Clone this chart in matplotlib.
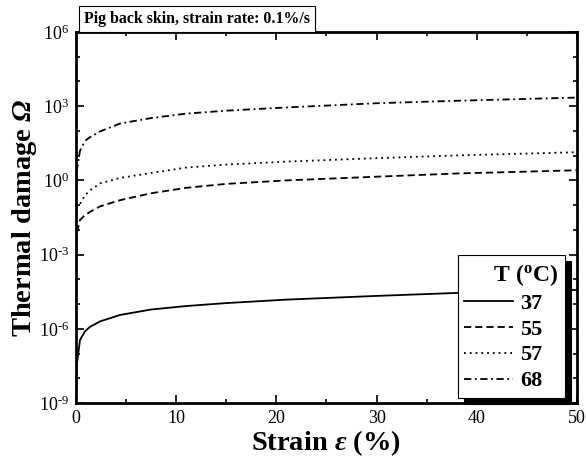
import numpy as np
import matplotlib
matplotlib.use('Agg')
import matplotlib.pyplot as plt
from matplotlib.ticker import MultipleLocator, LogLocator, NullFormatter, FuncFormatter

plt.rcParams['font.family'] = ['Liberation Serif', 'DejaVu Serif']
plt.rcParams['mathtext.fontset'] = 'custom'
plt.rcParams['mathtext.rm'] = 'Liberation Serif'
plt.rcParams['mathtext.it'] = 'Liberation Serif:italic'
plt.rcParams['mathtext.bf'] = 'Liberation Serif:bold'
plt.rcParams['mathtext.bfit'] = 'Liberation Serif:bold:italic'
plt.rcParams['axes.unicode_minus'] = False

# strain (%) and log10 of thermal damage
strain = [0.02, 0.1, 0.4, 0.9, 1.4, 2.4, 4.4, 7.5, 11, 15, 21, 30, 38, 50]
log_37 = [-8.3, -7.4, -6.45, -6.1, -5.92, -5.7, -5.44, -5.22, -5.08, -4.96, -4.82, -4.67, -4.55, -4.43]
log_55 = [-3.0, -2.1, -1.6, -1.4, -1.27, -1.05, -0.8, -0.52, -0.3, -0.14, 0.0, 0.15, 0.28, 0.41]
log_57 = [-1.6, -1.1, -0.95, -0.6, -0.4, -0.12, 0.1, 0.3, 0.52, 0.64, 0.76, 0.9, 1.01, 1.14]
log_68 = [-0.3, 0.45, 1.2, 1.6, 1.75, 1.98, 2.3, 2.52, 2.7, 2.82, 2.95, 3.12, 3.22, 3.35]

temps = ['37', '55', '57', '68']
styles = ['-', (0, (4, 2.2)), (0, (1, 2.2)), (0, (4, 2, 1, 2))]


def pow10(v, pos):
    e = int(round(np.log10(v)))
    s = str(e).replace('-', '\u2010')
    return '$10^{' + s + '}$'


fig = plt.figure(figsize=(5.86, 4.66), dpi=100)
ax = fig.add_axes([0.1297, 0.1352, 0.8549, 0.7961])

for t, ls, yl in zip(temps, styles, [log_37, log_55, log_57, log_68]):
    ax.plot(strain, 10 ** np.array(yl), color='black', ls=ls, lw=1.3, label=t)

ax.set_yscale('log')
ax.set_xlim(0, 50)
ax.set_ylim(1e-9, 1e6)
ax.xaxis.set_major_locator(MultipleLocator(10))
ax.xaxis.set_minor_locator(MultipleLocator(5))
ax.yaxis.set_major_locator(LogLocator(base=1000, numticks=10))
ax.yaxis.set_minor_locator(LogLocator(base=10, subs=[1.0], numticks=20))
ax.yaxis.set_major_formatter(FuncFormatter(pow10))
ax.yaxis.set_minor_formatter(NullFormatter())

for s in ax.spines.values():
    s.set_linewidth(2)
ax.tick_params(which='both', direction='in', top=True, right=True, labelsize=13, width=1.2)
ax.tick_params(which='major', length=6, pad=5)
ax.tick_params(which='minor', length=3)

ax.set_xlabel(r'Strain $\mathbfit{\varepsilon}$ (%)', fontsize=20.5, fontweight='bold', labelpad=1)
ax.set_ylabel(r'Thermal damage $\mathbfit{\Omega}$', fontsize=20.5, fontweight='bold', labelpad=0)

ax.text(0.016, 1.013, 'Pig back skin, strain rate: 0.1%/s', transform=ax.transAxes,
        fontsize=11.4, fontweight='bold', ha='left', va='bottom',
        bbox=dict(boxstyle='square,pad=0.3', facecolor='white', edgecolor='black', lw=0.8))

leg = ax.legend(title='     T ($\\mathregular{^o}$C)', loc='lower right',
                bbox_to_anchor=(0.976, 0.0135), borderaxespad=0, fancybox=False,
                shadow={'color': 'black', 'ox': 4.5, 'oy': -4.5, 'alpha': 1},
                handlelength=2.2, handletextpad=0.32, labelspacing=0.24,
                borderpad=0.3, alignment='left',
                prop={'weight': 'bold', 'size': 16},
                title_fontproperties={'weight': 'bold', 'size': 17})
leg.get_frame().set_edgecolor('black')
leg.get_frame().set_linewidth(0.8)
leg.get_frame().set_alpha(1)

fig.savefig('out.png', dpi=100)
